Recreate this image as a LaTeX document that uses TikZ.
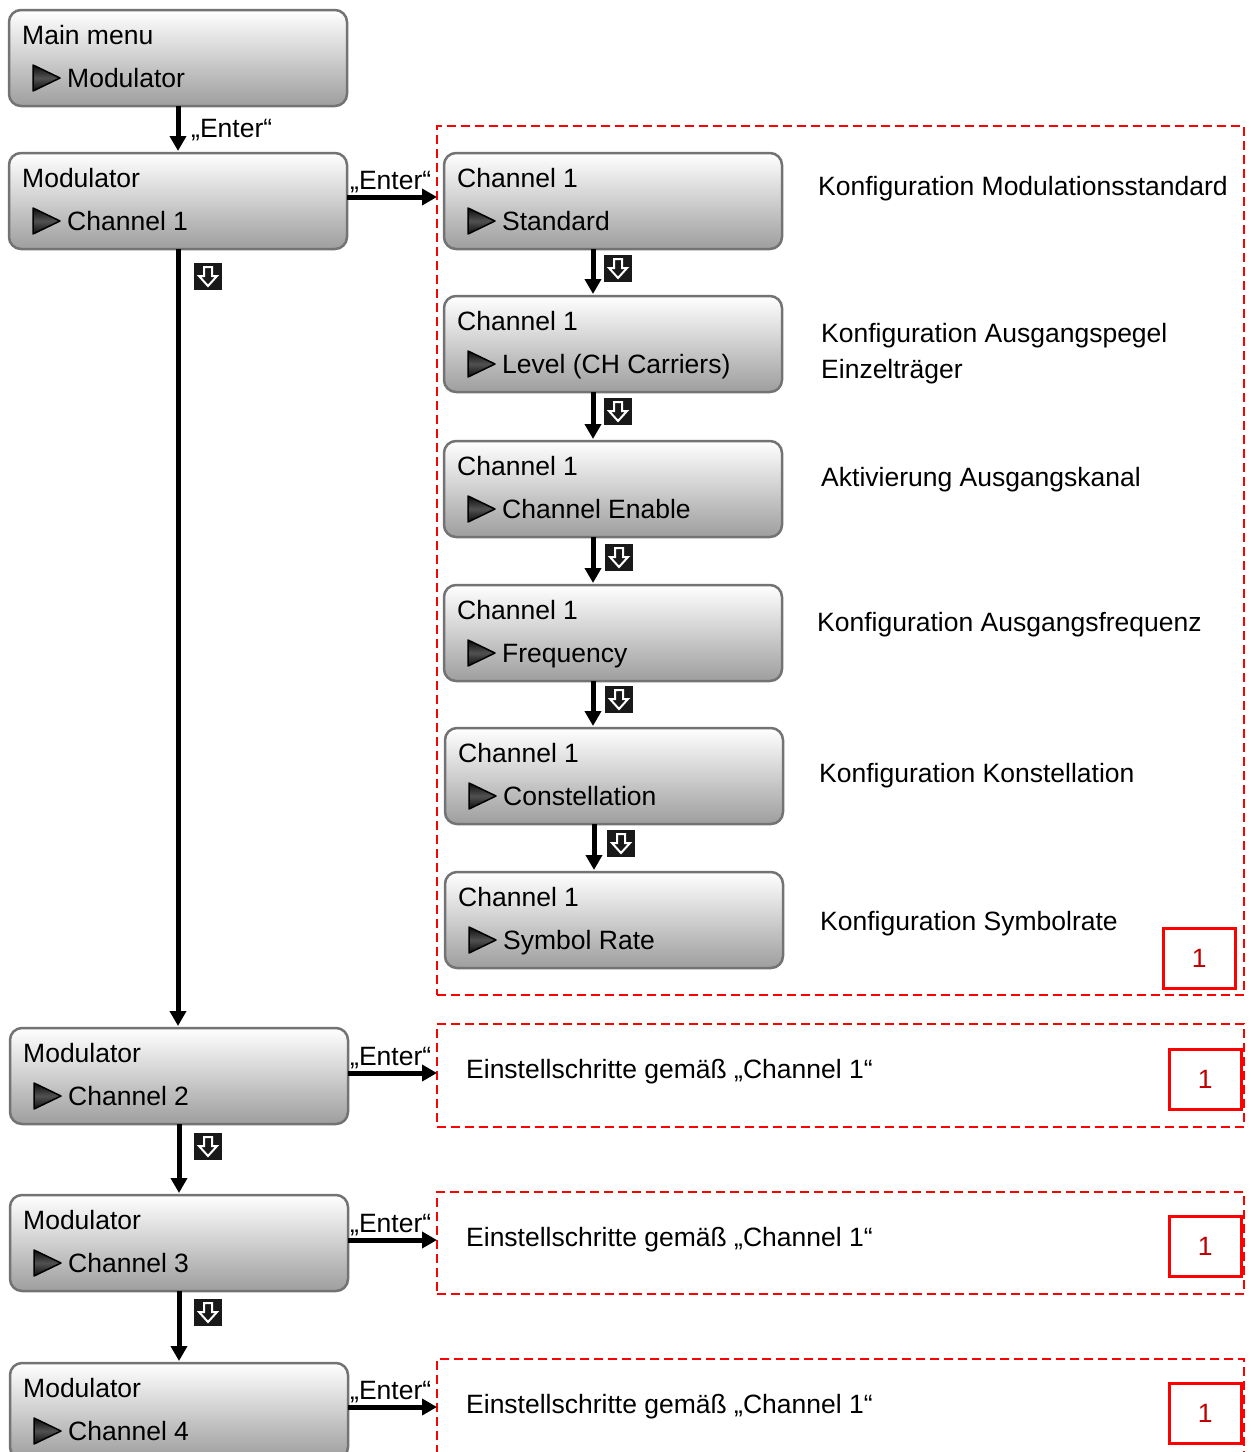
\documentclass[tikz,border=0pt]{standalone}
\usepackage{fontspec}
\setmainfont{Liberation Sans}
\usetikzlibrary{arrows.meta,calc}
\definecolor{darkred}{HTML}{C00000}
\tikzset{
  x=1pt, y=-1pt,
  menubox/.style={draw=black!55, line width=2.5pt, rounded corners=12pt,
    top color=white, bottom color=black!38, minimum width=338pt,
    minimum height=96pt, anchor=north west, inner sep=0pt, outer sep=0pt},
  txt/.style={font=\fontsize{26.5pt}{30pt}\selectfont, inner sep=0pt, anchor=base west},
  arr/.style={line width=5pt, -{Triangle[width=16pt,length=15pt]}, shorten >=2pt},
  dbox/.style={draw=red, line width=2.3pt, dash pattern=on 9pt off 5pt,
    anchor=north west, inner sep=0pt, outer sep=0pt, minimum width=807pt},
  redbox/.style={draw=red, line width=2.5pt, minimum width=72pt, minimum height=60pt,
    inner sep=0pt, anchor=north west, text=darkred,
    font=\fontsize{26.5pt}{30pt}\selectfont},
  pointer/.style={top color=black!95, bottom color=black!95, middle color=black!68,
    draw=black, line width=1.5pt, line join=round},
  downicon/.pic={
    \fill[black!90] (0,0) rectangle (28,27);
    \draw[white, line width=2pt, line join=miter]
      (10,4) -- (18,4) -- (18,13) -- (23,13) -- (14,23) -- (5,13) -- (10,13) -- cycle;
  }
}
\newcommand\menuentry[5]{%
  \node[menubox] (#1) at (#2,#3) {};
  \node[txt] (#1-a) at ([shift={(13,34)}]#1.north west) {#4};
  \draw[pointer] ([shift={(24,55)}]#1.north west) -- ([shift={(24,81)}]#1.north west)
     -- ([shift={(51,68)}]#1.north west) -- cycle;
  \node[txt] (#1-b) at ([shift={(58,77)}]#1.north west) {#5};
}
\begin{document}
\begin{tikzpicture}
\useasboundingbox (0,0) rectangle (1251,1452);
\clip (0,0) rectangle (1251,1452);

% dashed frames
\node[dbox, minimum height=869pt] (D1) at (437,126) {};
\node[dbox, minimum height=103pt] (D2) at (437,1024) {};
\node[dbox, minimum height=102pt] (D3) at (437,1192) {};
\node[dbox, minimum height=120pt] (D4) at (437,1359) {};

% left column
\menuentry{M0}{9}{10}{Main menu}{Modulator}
\menuentry{M1}{9}{153}{Modulator}{Channel 1}
\menuentry{M2}{10}{1028}{Modulator}{Channel 2}
\menuentry{M3}{10}{1195}{Modulator}{Channel 3}
\menuentry{M4}{10}{1363}{Modulator}{Channel 4}

% right column
\menuentry{A}{444}{153}{Channel 1}{Standard}
\menuentry{B}{444}{296}{Channel 1}{Level (CH Carriers)}
\menuentry{C}{444}{441}{Channel 1}{Channel Enable}
\menuentry{Dd}{444}{585}{Channel 1}{Frequency}
\menuentry{E}{445}{728}{Channel 1}{Constellation}
\menuentry{F}{445}{872}{Channel 1}{Symbol Rate}

% vertical arrows left
\coordinate (xl) at (178,0);
\coordinate (xl2) at (179,0);
\draw[arr] (M0.south -| xl) -- (M1.north -| xl);
\node[txt] (en0) at (191,137) {„Enter“};
\draw[arr] (M1.south -| xl) -- (M2.north -| xl);
\draw[arr] (M2.south -| xl2) -- (M3.north -| xl2);
\draw[arr] (M3.south -| xl2) -- (M4.north -| xl2);
\pic at (194,263) {downicon};
\pic at (194,1133) {downicon};
\pic at (194,1299) {downicon};

% vertical arrows right
\coordinate (xr) at (593,0);
\coordinate (xr2) at (594,0);
\draw[arr] (A.south -| xr) -- (B.north -| xr);
\draw[arr] (B.south -| xr) -- (C.north -| xr);
\draw[arr] (C.south -| xr) -- (Dd.north -| xr);
\draw[arr] (Dd.south -| xr) -- (E.north -| xr);
\draw[arr] (E.south -| xr2) -- (F.north -| xr2);
\pic at (604,255) {downicon};
\pic at (604,398) {downicon};
\pic at (605,544) {downicon};
\pic at (605,686) {downicon};
\pic at (607,830) {downicon};

% horizontal Enter arrows
\coordinate (h1) at (0,197);
\coordinate (h2) at (0,1073);
\coordinate (h3) at (0,1240);
\coordinate (h4) at (0,1407);
\draw[arr, shorten >=0pt] (M1.east |- h1) -- (D1.west |- h1);
\draw[arr, shorten >=0pt] (M2.east |- h2) -- (D2.west |- h2);
\draw[arr, shorten >=0pt] (M3.east |- h3) -- (D3.west |- h3);
\draw[arr, shorten >=0pt] (M4.east |- h4) -- (D4.west |- h4);
\node[txt] (en1) at (350,189) {„Enter“};
\node[txt] (en2) at (350,1065) {„Enter“};
\node[txt] (en3) at (350,1232) {„Enter“};
\node[txt] (en4) at (350,1399) {„Enter“};

% descriptions
\node[txt] (t1) at (818,195) {Konfiguration Modulationsstandard};
\node[txt] (t2) at (821,342) {Konfiguration Ausgangspegel};
\node[txt] (t2b) at (821,378) {Einzelträger};
\node[txt] (t3) at (821,486) {Aktivierung Ausgangskanal};
\node[txt] (t4) at (817,631) {Konfiguration Ausgangsfrequenz};
\node[txt] (t5) at (819,782) {Konfiguration Konstellation};
\node[txt] (t6) at (820,930) {Konfiguration Symbolrate};
\node[txt] (s2) at (466,1078) {Einstellschritte gemäß „Channel 1“};
\node[txt] (s3) at (466,1246) {Einstellschritte gemäß „Channel 1“};
\node[txt] (s4) at (466,1413) {Einstellschritte gemäß „Channel 1“};

% red number boxes
\node[redbox] (r1) at (1162,927) {1};
\node[redbox] (r2) at (1168,1048) {1};
\node[redbox] (r3) at (1168,1215) {1};
\node[redbox] (r4) at (1168,1382) {1};
\end{tikzpicture}
\end{document}
